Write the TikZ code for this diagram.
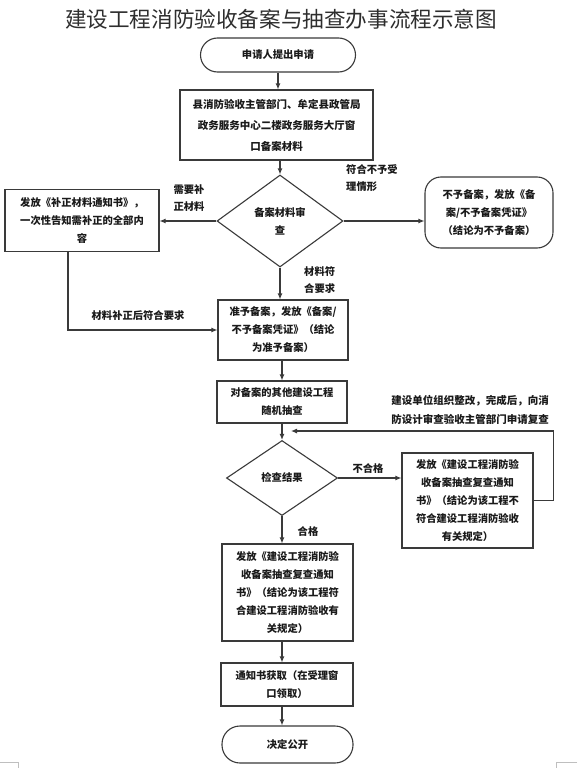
\documentclass[tikz,border=0pt]{standalone}
\usepackage{fontspec}
\newfontfamily\cjk{Noto Sans CJK SC}
\usetikzlibrary{shapes.geometric,arrows.meta}
\definecolor{ln}{HTML}{3A3A3A}
\definecolor{tx}{HTML}{1A1A1A}
\begin{document}
\begin{tikzpicture}[x=1pt,y=-1pt,
  every node/.style={font=\cjk\bfseries\fontsize{10.3}{18}\selectfont, text=tx, inner sep=0pt, align=center},
  boxnode/.style={draw=ln, line width=1.1pt, rectangle},
  pill/.style={draw=ln, line width=1.1pt, rectangle, rounded corners=17pt},
  decision/.style={draw=ln, line width=1.1pt, diamond},
  lbl/.style={font=\cjk\bfseries\fontsize{10.3}{17}\selectfont},
  arr/.style={draw=ln, line width=1.1pt, -{Latex[length=6pt,width=5pt]}},
  plain/.style={draw=ln, line width=1.1pt}]
\useasboundingbox (0,0) rectangle (588,768);
\fill[white] (0,0) rectangle (588,768);

\node[font=\cjk\fontsize{21.6}{24}\selectfont, text=black!82] (title) at (281,19) {建设工程消防验收备案与抽查办事流程示意图};

\node[pill, minimum width=155pt, minimum height=34pt] (start) at (278,55) {申请人提出申请};

\node[boxnode, minimum width=193pt, minimum height=70pt, font=\cjk\bfseries\fontsize{10.5}{21}\selectfont] (box1) at (276.5,125)
  {县消防验收主管部门、牟定县政管局\\政务服务中心二楼政务服务大厅窗\\口备案材料};

\node[decision, minimum width=126pt, minimum height=92pt] (d1) at (280,221) {备案材料审\\查};

\node[boxnode, minimum width=154pt, minimum height=62pt] (lbox) at (82,220.5)
  {发放《补正材料通知书》，\\一次性告知需补正的全部内\\容};

\node[boxnode, rounded corners=16pt, minimum width=128pt, minimum height=71pt] (rbox) at (489,212.5)
  {不予备案，发放《备\\案/不予备案凭证》\\（结论为不予备案）};

\node[boxnode, minimum width=130pt, minimum height=60pt] (box2) at (283,330)
  {准予备案，发放《备案/\\不予备案凭证》（结论\\为准予备案）};

\node[boxnode, minimum width=130pt, minimum height=42pt] (box3) at (282,402)
  {对备案的其他建设工程\\随机抽查};

\node[decision, minimum width=111pt, minimum height=75pt] (d2) at (282,478) {检查结果};

\node[boxnode, minimum width=131pt, minimum height=95pt] (rbox2) at (467.5,500.5)
  {发放《建设工程消防验\\收备案抽查复查通知\\书》（结论为该工程不\\符合建设工程消防验收\\有关规定）};

\node[boxnode, minimum width=131pt, minimum height=97pt] (box4) at (287.5,592.5)
  {发放《建设工程消防验\\收备案抽查复查通知\\书》（结论为该工程符\\合建设工程消防验收有\\关规定）};

\node[boxnode, minimum width=132pt, minimum height=43pt] (box5) at (287,684.5)
  {通知书获取（在受理窗\\口领取）};

\node[pill, rounded corners=18pt, minimum width=131pt, minimum height=37pt] (finish) at (287.5,744.5) {决定公开};

% labels
\node[lbl] (l1) at (189,198) {需要补\\正材料};
\node[lbl, anchor=north west, align=left] (l2) at (346,164) {符合不予受\\理情形};
\node[lbl, anchor=north west, align=left] (l3) at (304,266) {材料符\\合要求};
\node[lbl] (l4) at (138,316) {材料补正后符合要求};
\node[lbl, font=\cjk\bfseries\fontsize{10.5}{18.5}\selectfont] (l5) at (470,410) {建设单位组织整改，完成后，向消\\防设计审查验收主管部门申请复查};
\node[lbl] (l6) at (368,469) {不合格};
\node[lbl] (l7) at (308,532) {合格};

% connectors
\draw[arr] (start.south) -- (start.south |- box1.north);
\draw[arr] (box1.south -| d1.north) -- (d1.north);
\draw[arr] (d1.west) -- (lbox.east |- d1.west);
\draw[arr] (d1.east) -- (rbox.west |- d1.east);
\draw[arr] (d1.south) -- (d1.south |- box2.north);
\draw[arr] ([xshift=-14pt]lbox.south) |- (box2.west);
\draw[arr] (box2.south -| box3.north) -- (box3.north);
\draw[arr] (box3.south) -- (d2.north);
\draw[arr] (d2.east) -- (rbox2.west |- d2.east);
\coordinate (fbend) at (291,431);
\draw[arr] (rbox2.east) -- ++(20,0) |- (fbend);
\draw[arr] (d2.south) -- (d2.south |- box4.north);
\draw[arr] (box4.south -| d2.south) -- (d2.south |- box5.north);
\draw[arr] (box5.south -| d2.south) -- (d2.south |- finish.north);

% page corner marks
\draw[black!25, line width=0.6pt] (0,762) -- (18,762) -- (18,768);
\draw[black!25, line width=0.6pt] (577,762) -- (556,762) -- (556,768);
\end{tikzpicture}
\end{document}
